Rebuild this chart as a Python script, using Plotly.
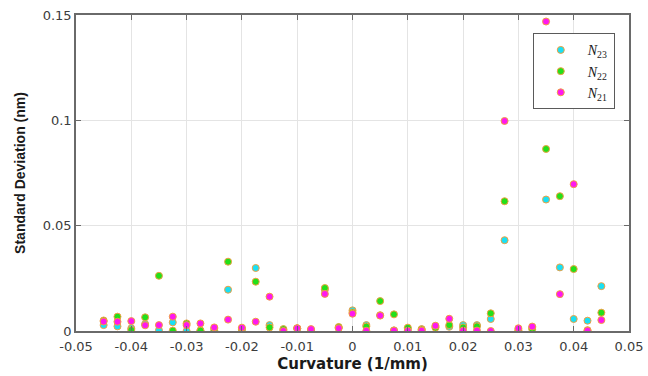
import plotly.graph_objects as go

# Curvature sample points (1/mm)
curvature = [-0.045, -0.0425, -0.04, -0.0375, -0.035, -0.0325, -0.03, -0.0275, -0.025,
             -0.0225, -0.02, -0.0175, -0.015, -0.0125, -0.01, -0.0075, -0.005, -0.0025,
             0.0, 0.0025, 0.005, 0.0075, 0.01, 0.0125, 0.015, 0.0175, 0.02, 0.0225,
             0.025, 0.0275, 0.03, 0.0325, 0.035, 0.0375, 0.04, 0.0425, 0.045]

# Standard deviation (nm) for each mode
std_n23 = [0.0028, 0.0022, 0.0013, 0.0033, 0.0003, 0.0041, 0.0000, 0.0003, 0.0012,
           0.0196, 0.0006, 0.0299, 0.0028, 0.0005, 0.0012, 0.0005, 0.0196, 0.0016,
           0.0098, 0.0028, 0.0075, 0.0003, 0.0010, 0.0009, 0.0020, 0.0020, 0.0028,
           0.0028, 0.0057, 0.0431, 0.0005, 0.0015, 0.0624, 0.0302, 0.0057, 0.0049, 0.0213]

std_n22 = [0.0050, 0.0068, 0.0005, 0.0065, 0.0262, 0.0002, 0.0036, 0.0002, 0.0003,
           0.0329, 0.0010, 0.0234, 0.0017, 0.0009, 0.0013, 0.0001, 0.0204, 0.0019,
           0.0088, 0.0021, 0.0142, 0.0079, 0.0016, 0.0007, 0.0016, 0.0028, 0.0017,
           0.0022, 0.0084, 0.0616, 0.0002, 0.0009, 0.0864, 0.0640, 0.0294, 0.0004, 0.0087]

std_n21 = [0.0045, 0.0044, 0.0047, 0.0027, 0.0028, 0.0068, 0.0028, 0.0036, 0.0017,
           0.0054, 0.0016, 0.0044, 0.0163, 0.0000, 0.0013, 0.0009, 0.0176, 0.0013,
           0.0082, 0.0001, 0.0073, 0.0002, 0.0001, 0.0002, 0.0025, 0.0058, 0.0002,
           0.0002, 0.0000, 0.0997, 0.0013, 0.0021, 0.1469, 0.0175, 0.0697, 0.0002, 0.0052]

series = [
    ("<i>N</i><sub>23</sub>", std_n23, "#19e0f5"),
    ("<i>N</i><sub>22</sub>", std_n22, "#22e01a"),
    ("<i>N</i><sub>21</sub>", std_n21, "#ff17f0"),
]

x_ticks = [-0.05, -0.04, -0.03, -0.02, -0.01, 0, 0.01, 0.02, 0.03, 0.04, 0.05]
x_labels = ["-0.05", "-0.04", "-0.03", "-0.02", "-0.01", "0",
            "0.01", "0.02", "0.03", "0.04", "0.05"]
y_ticks = [0, 0.05, 0.1, 0.15]
y_labels = ["0", "0.05", "0.1", "0.15"]

fig = go.Figure()
for name, vals, color in series:
    fig.add_trace(go.Scatter(
        x=curvature, y=vals, mode="markers", name=name,
        marker=dict(size=7, color=color, line=dict(color="#f0a040", width=1)),
    ))

axis_style = dict(
    showline=True, linecolor="#6a6a6a", linewidth=1.5, mirror="ticks",
    ticks="inside", ticklen=5, tickcolor="#6a6a6a",
    showgrid=True, gridcolor="#e4e4e4", gridwidth=1,
    zeroline=False, automargin=False,
    tickfont=dict(family="DejaVu Sans", size=13, color="#3c3c3c"),
)

fig.update_layout(
    width=648, height=376,
    margin=dict(l=76, r=19, t=15, b=45),
    plot_bgcolor="white", paper_bgcolor="white",
    xaxis=dict(range=[-0.05, 0.05], tickvals=x_ticks, ticktext=x_labels,
               ticklabelstandoff=3,
               title=dict(text="Curvature (1/mm)", standoff=5,
                          font=dict(family="DejaVu Sans", size=15, color="#1a1a1a",
                                    weight="bold")),
               **axis_style),
    yaxis=dict(range=[0, 0.15], tickvals=y_ticks, ticktext=y_labels,
               title=dict(text="Standard Deviation (nm)", standoff=14,
                          font=dict(family="Liberation Sans", size=14, color="#1a1a1a",
                                    weight="bold")),
               **axis_style),
    legend=dict(
        x=0.826, y=0.942, xanchor="left", yanchor="top",
        bgcolor="white", bordercolor="#5a5a5a", borderwidth=1,
        font=dict(family="Liberation Serif", size=14, color="#1a1a1a"),
        tracegroupgap=0, itemwidth=44,
    ),
    showlegend=True,
)

fig.write_html("out.html")
